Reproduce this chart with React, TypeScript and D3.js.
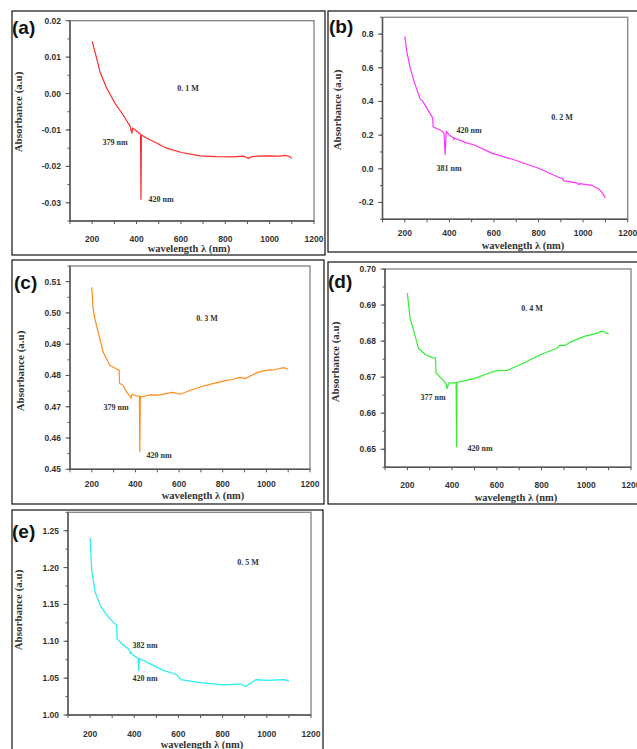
import * as d3 from "d3";

// ---- data (wavelength nm / absorbance a.u.) ----
const nmA = [200, 220, 235, 265, 302, 340, 362, 370, 379, 383, 400, 418, 420, 422, 446, 490, 535, 602, 686, 760, 835, 880, 895, 905, 920, 985, 1040, 1075, 1090, 1100];
const absA = [0.0143, 0.0097, 0.006, 0.0015, -0.0026, -0.0059, -0.0081, -0.0088, -0.0109, -0.0095, -0.0103, -0.0112, -0.029, -0.0114, -0.0123, -0.0136, -0.015, -0.0162, -0.0171, -0.0173, -0.0174, -0.0172, -0.0175, -0.0178, -0.0173, -0.0171, -0.0172, -0.017, -0.0173, -0.0178];

const nmB = [200, 210, 223, 245, 268, 283, 305, 323, 325, 327, 345, 367, 376, 381, 386, 400, 418, 420, 422, 470, 515, 590, 680, 740, 800, 890, 910, 912, 975, 980, 985, 1039, 1070, 1084, 1100];
const absB = [0.787, 0.69, 0.605, 0.506, 0.417, 0.396, 0.347, 0.307, 0.3, 0.25, 0.238, 0.225, 0.21, 0.085, 0.222, 0.2, 0.185, 0.172, 0.183, 0.157, 0.14, 0.093, 0.058, 0.03, 0.003, -0.05, -0.06, -0.07, -0.085, -0.095, -0.088, -0.099, -0.12, -0.139, -0.173];

const nmC = [200, 205, 214, 229, 252, 283, 297, 320, 325, 327, 343, 358, 374, 379, 385, 404, 418, 420, 422, 431, 470, 507, 540, 570, 604, 650, 696, 750, 803, 849, 880, 905, 930, 960, 1002, 1040, 1080, 1100];
const absC = [0.5082, 0.502, 0.4981, 0.4939, 0.4875, 0.4832, 0.4827, 0.4818, 0.4818, 0.4775, 0.4769, 0.4748, 0.4735, 0.4727, 0.474, 0.4735, 0.4734, 0.4556, 0.4733, 0.4732, 0.4738, 0.4737, 0.4742, 0.4746, 0.474, 0.4752, 0.4763, 0.4773, 0.4782, 0.4788, 0.4794, 0.479, 0.48, 0.481, 0.4817, 0.4819, 0.4825, 0.482];

const nmD = [200, 212, 227, 249, 279, 309, 326, 328, 342, 364, 374, 377, 381, 386, 408, 418, 420, 422, 431, 498, 573, 603, 648, 722, 797, 871, 880, 905, 931, 991, 1050, 1064, 1080, 1094, 1100];
const absD = [0.6933, 0.6864, 0.6832, 0.6781, 0.6763, 0.6755, 0.6753, 0.6712, 0.6703, 0.6689, 0.668, 0.6668, 0.6676, 0.6684, 0.6684, 0.6684, 0.6507, 0.6686, 0.6687, 0.6696, 0.6713, 0.6718, 0.6719, 0.674, 0.6763, 0.6781, 0.6788, 0.6788, 0.6798, 0.6813, 0.6822, 0.6827, 0.6826, 0.6821, 0.6821];

const nmE = [200, 204, 208, 223, 245, 275, 305, 320, 322, 350, 373, 380, 382, 385, 396, 417, 420, 423, 441, 486, 531, 570, 590, 610, 700, 800, 880, 905, 950, 1000, 1080, 1100];
const absE = [1.24, 1.215, 1.1945, 1.167, 1.149, 1.1355, 1.126, 1.122, 1.1036, 1.0945, 1.09, 1.086, 1.0832, 1.085, 1.081, 1.077, 1.0605, 1.0765, 1.074, 1.0673, 1.0605, 1.057, 1.055, 1.048, 1.044, 1.041, 1.042, 1.0386, 1.048, 1.047, 1.048, 1.046];

const xTicks = [200, 400, 600, 800, 1000, 1200];
const yTicksA = [-0.03, -0.02, -0.01, 0.0, 0.01, 0.02];
const yTicksB = [-0.2, 0.0, 0.2, 0.4, 0.6, 0.8];
const yTicksC = [0.45, 0.46, 0.47, 0.48, 0.49, 0.5, 0.51];
const yTicksD = [0.65, 0.66, 0.67, 0.68, 0.69, 0.7];
const yTicksE = [1.0, 1.05, 1.1, 1.15, 1.2, 1.25];

const panelLabels = ["(a)", "(b)", "(c)", "(d)", "(e)"];
const concLabels = ["0. 1 M", "0. 2 M", "0. 3 M", "0. 4 M", "0. 5 M"];
const peakLabels = [
  ["379 nm", "420 nm"],
  ["381 nm", "420 nm"],
  ["379 nm", "420 nm"],
  ["377 nm", "420 nm"],
  ["382 nm", "420 nm"],
];

// ---- layout (pixel geometry of each sub-figure) ----
type Layout = {
  box: [number, number, number, number];
  plot: { l: number; t: number; r: number; b: number };
  yDomain: [number, number];
  yMinor: number;
  digits: number;
  xLabDy: number;
  xTitle: [number, number];
  yTitle: [number, number];
  tag: [number, number];
  conc: [number, number];
  peak1: [number, number];
  peak2: [number, number];
  color: string;
};

const layouts: Layout[] = [
  { box: [12, 11, 325, 255], plot: { l: 70, t: 20.7, r: 314, b: 221 }, yDomain: [-0.035, 0.02], yMinor: 0.005, digits: 2, xLabDy: 21, xTitle: [189, 252], yTitle: [18, 112], tag: [12, 34], conc: [188, 91], peak1: [115, 145], peak2: [161, 202], color: "#ff2a2a" },
  { box: [328, 11, 642, 252], plot: { l: 382.5, t: 17.3, r: 627.7, b: 219.3 }, yDomain: [-0.3, 0.9], yMinor: 0.1, digits: 1, xLabDy: 17, xTitle: [523, 249], yTitle: [337, 110], tag: [329, 33], conc: [562, 120], peak1: [449, 171], peak2: [469, 133], color: "#ff33ff" },
  { box: [12, 260, 324, 504], plot: { l: 70, t: 266, r: 310, b: 469.3 }, yDomain: [0.45, 0.515], yMinor: 0.005, digits: 2, xLabDy: 18, xTitle: [203, 498.5], yTitle: [20, 371], tag: [14, 289], conc: [207, 321], peak1: [116, 410], peak2: [159, 458], color: "#ff8c1a" },
  { box: [328, 262, 642, 504], plot: { l: 385, t: 269, r: 631, b: 467.3 }, yDomain: [0.645, 0.7], yMinor: 0.005, digits: 2, xLabDy: 21, xTitle: [516, 500.5], yTitle: [335, 362], tag: [328, 288], conc: [532, 311], peak1: [433, 400], peak2: [480, 451], color: "#33ee33" },
  { box: [12, 510, 323, 760], plot: { l: 68, t: 512.3, r: 311, b: 715 }, yDomain: [1.0, 1.275], yMinor: 0.025, digits: 2, xLabDy: 22, xTitle: [202, 748], yTitle: [18, 610], tag: [12, 538], conc: [248, 565], peak1: [145, 648], peak2: [145, 681], color: "#22eef2" },
];

const series = [
  { nm: nmA, abs: absA, yTicks: yTicksA },
  { nm: nmB, abs: absB, yTicks: yTicksB },
  { nm: nmC, abs: absC, yTicks: yTicksC },
  { nm: nmD, abs: absD, yTicks: yTicksD },
  { nm: nmE, abs: absE, yTicks: yTicksE },
];

const SANS = "'Liberation Sans', Arial, sans-serif";
const SERIF = "'Liberation Serif', 'Times New Roman', serif";

function Panel({ i }: { i: number }) {
  const L = layouts[i];
  const S = series[i];
  const { l, t, r, b } = L.plot;
  const x = d3.scaleLinear().domain([100, 1200]).range([l, r]);
  const y = d3.scaleLinear().domain(L.yDomain).range([b, t]);
  const line = d3
    .line<number>()
    .x((_, k) => x(S.nm[k]))
    .y((v) => y(v));

  const xMinor = d3.range(100, 1201, 100);
  const yMinor = d3.range(
    Math.ceil(L.yDomain[0] / L.yMinor - 1e-6) * L.yMinor,
    L.yDomain[1] + 1e-9,
    L.yMinor
  );
  const fmt = (v: number) => v.toFixed(L.digits);
  const [bx0, by0, bx1, by1] = L.box;

  return (
    <g>
      <rect x={bx0} y={by0} width={bx1 - bx0} height={by1 - by0} fill="none" stroke="#111" strokeWidth={1.2} />
      {/* frame */}
      <rect x={l} y={t} width={r - l} height={b - t} fill="none" stroke="#8a8a8a" strokeWidth={1.4} />
      <line x1={l} x2={l} y1={t} y2={b} stroke="#555" strokeWidth={1.4} />
      <line x1={l} x2={r} y1={b} y2={b} stroke="#555" strokeWidth={1.4} />
      {yMinor.map((v, k) => (
        <line key={"ym" + k} x1={l - 2.5} x2={l} y1={y(v)} y2={y(v)} stroke="#555" strokeWidth={1} />
      ))}
      {S.yTicks.map((v) => (
        <g key={"yt" + v}>
          <line x1={l - 4.5} x2={l} y1={y(v)} y2={y(v)} stroke="#555" strokeWidth={1} />
          <text x={l - 9} y={y(v) + 3} textAnchor="end" fontFamily={SANS} fontWeight="bold" fontSize={8.5} fill="#333">
            {fmt(v)}
          </text>
        </g>
      ))}
      {xMinor.map((v) => (
        <line key={"xm" + v} x1={x(v)} x2={x(v)} y1={b} y2={b + 3} stroke="#555" strokeWidth={1} />
      ))}
      {xTicks.map((v) => (
        <text key={"xt" + v} x={x(v)} y={b + L.xLabDy} textAnchor="middle" fontFamily={SANS} fontWeight="bold" fontSize={8.5} fill="#333">
          {v}
        </text>
      ))}
      <path d={line(S.abs) || ""} fill="none" stroke={L.color} strokeWidth={1.2} strokeLinejoin="round" />
      <text x={L.xTitle[0]} y={L.xTitle[1]} textAnchor="middle" fontFamily={SERIF} fontWeight="bold" fontSize={10.5} fill="#333">
        wavelength λ (nm)
      </text>
      <text
        transform={`translate(${L.yTitle[0]},${L.yTitle[1]}) rotate(-90)`}
        dy={4}
        textAnchor="middle"
        fontFamily={SERIF}
        fontWeight="bold"
        fontSize={11}
        fill="#333"
      >
        Absorbance (a.u)
      </text>
      <text x={L.tag[0]} y={L.tag[1]} fontFamily={SANS} fontWeight="bold" fontSize={19} fill="#111">
        {panelLabels[i]}
      </text>
      <text x={L.conc[0]} y={L.conc[1]} textAnchor="middle" fontFamily={SERIF} fontWeight="bold" fontSize={8} fill="#333">
        {concLabels[i]}
      </text>
      <text x={L.peak1[0]} y={L.peak1[1]} textAnchor="middle" fontFamily={SERIF} fontWeight="bold" fontSize={8} fill="#333">
        {peakLabels[i][0]}
      </text>
      <text x={L.peak2[0]} y={L.peak2[1]} textAnchor="middle" fontFamily={SERIF} fontWeight="bold" fontSize={8} fill="#333">
        {peakLabels[i][1]}
      </text>
    </g>
  );
}

export default function App() {
  return (
    <div style={{ position: "absolute", left: 0, top: 0, width: 637, height: 749, background: "#fff" }}>
      <svg width={637} height={749} style={{ display: "block" }}>
        {layouts.map((_, i) => (
          <Panel key={i} i={i} />
        ))}
      </svg>
    </div>
  );
}
